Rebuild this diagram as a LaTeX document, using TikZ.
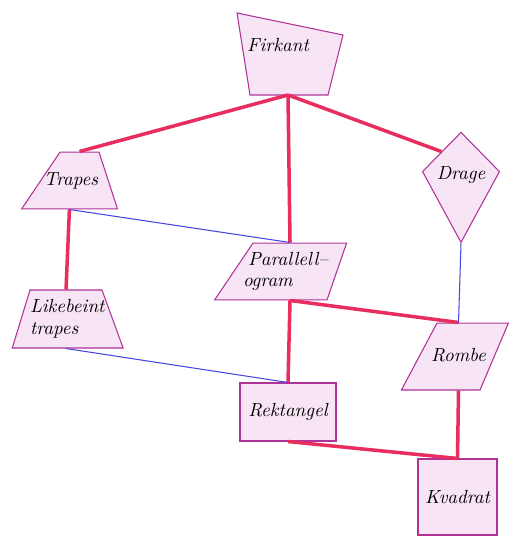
\documentclass[tikz,border=0pt]{standalone}
\usepackage{amsmath}
\usetikzlibrary{shapes.geometric}
\definecolor{figurfyll}{RGB}{247,228,245}
\definecolor{figurkant}{RGB}{175,50,150}
\definecolor{sterkrod}{RGB}{232,45,95}
\definecolor{svakblaa}{RGB}{70,70,225}

\begin{document}
\begin{tikzpicture}[x=0.02cm, y=-0.02cm,
		tekst/.style={font=\fontsize{10.8}{12.5}\selectfont\itshape},
		figur/.style={tekst, draw=figurkant, fill=figurfyll, line width=0.6pt, inner sep=2pt},
		trap/.style={figur, trapezium, inner sep=0pt},
		sterk/.style={draw=sterkrod, line width=2pt},
		svak/.style={draw=svakblaa, line width=0.6pt}]
		\useasboundingbox (0,0) rectangle (512,536);
		\filldraw[figur] (237,13) -- (343,35) -- (328,95) -- (250,95) -- cycle;
		\node[tekst] (firkant) at (278,45) {Firkant};
		\coordinate (firkantbunn) at (288,95);
		\node[trap, trapezium left angle=56, trapezium right angle=72, text height=18.9pt, text depth=13.5pt] (trapes) at (79.5,180.5) {\makebox[0.78cm]{\hspace*{-0.34cm}Trapes}};
		\node[trap, trapezium left angle=73, trapezium right angle=70, text height=25.2pt, text depth=7.8pt, align=left] (likebeint) at (66,319) {\makebox[1.44cm][l]{Likebeint}\\trapes};
		\node[trap, trapezium left angle=56, trapezium right angle=109, text height=25pt, text depth=7.4pt, align=left] (parallell) at (290,271.5) {\makebox[1.48cm][l]{\hspace*{-0.1cm}Parallell--}\\\hspace*{-0.2cm}ogram};
		\node[trap, trapezium left angle=62, trapezium right angle=113, text height=21.8pt, text depth=16.3pt] (rombe) at (458.5,356.5) {\makebox[0.86cm]{Rombe}};
		\node[figur, kite, kite upper vertex angle=89, kite lower vertex angle=57, minimum width=1.54cm] (drage) at (461,175) {Drage};
		\node[figur, rectangle, minimum width=1.92cm, minimum height=1.16cm] (rektangel) at (288,412) {Rektangel};
		\node[figur, rectangle, minimum width=1.58cm, minimum height=1.52cm] (kvadrat) at (457.5,497) {Kvadrat};
		\path[sterk]
		(firkantbunn) edge (trapes.north) edge (parallell.north) edge (drage.upper left side)
		(trapes.bottom side) edge (likebeint.north)
		(parallell.south) edge (rektangel.north) edge (rombe.north)
		(rektangel.south) edge (kvadrat.north)
		(rombe.south) edge (kvadrat.north);
		\path[svak]
		(trapes.bottom side) edge (parallell.north)
		(drage.lower vertex) edge (rombe.north)
		(likebeint.south) edge (rektangel.north);
\end{tikzpicture}
\end{document}
